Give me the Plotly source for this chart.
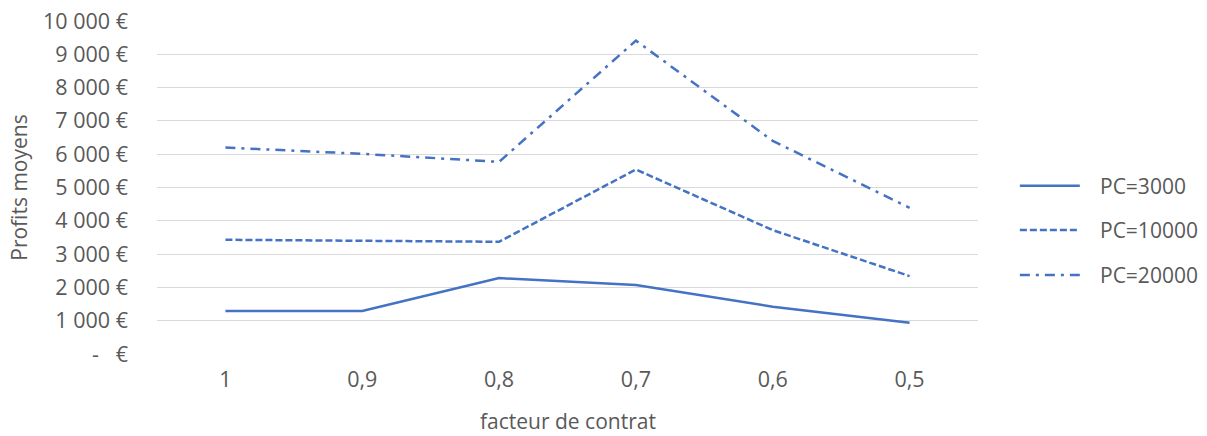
import plotly.graph_objects as go

# Data
categories = ["1", "0,9", "0,8", "0,7", "0,6", "0,5"]
pc_3000 = [1290, 1290, 2280, 2070, 1420, 940]
pc_10000 = [3430, 3410, 3370, 5540, 3720, 2340]
pc_20000 = [6200, 6010, 5770, 9410, 6400, 4390]
series_names = ["PC=3000", "PC=10000", "PC=20000"]

y_tick_values = [0, 1000, 2000, 3000, 4000, 5000, 6000, 7000, 8000, 9000, 10000]
y_tick_labels = ["-   €", "1 000 €", "2 000 €", "3 000 €", "4 000 €", "5 000 €",
                 "6 000 €", "7 000 €", "8 000 €", "9 000 €", "10 000 €"]

BLUE = "#4472C4"
TEXT = "#595959"
FONT = "Open Sans"
TICK_SIZE = 21.5
LABEL_SIZE = 21
dashes = ["solid", "7px,3px", "10px,6px,3px,6px"]

fig = go.Figure()
for name, vals, dash in zip(series_names, [pc_3000, pc_10000, pc_20000], dashes):
    fig.add_trace(go.Scatter(
        x=categories, y=vals, name=name, mode="lines",
        line=dict(color=BLUE, width=2.5, dash=dash),
        showlegend=False,
    ))

# Legend drawn as line samples with labels on the right
legend_y = [0.505, 0.372, 0.237]
for name, dash, ly in zip(series_names, dashes, legend_y):
    fig.add_shape(type="line", xref="paper", yref="paper",
                  x0=1.051, x1=1.124, y0=ly, y1=ly,
                  line=dict(color=BLUE, width=2.5, dash=dash))
    fig.add_annotation(xref="paper", yref="paper", x=1.146, y=ly,
                       text=name, showarrow=False, xanchor="left", yanchor="middle",
                       font=dict(family=FONT, size=LABEL_SIZE, color=TEXT))

# Axis titles
fig.add_annotation(xref="paper", yref="paper", x=0.5, y=-0.2,
                   text="facteur de contrat", showarrow=False,
                   xanchor="center", yanchor="middle",
                   font=dict(family=FONT, size=LABEL_SIZE, color=TEXT))
fig.add_annotation(xref="paper", yref="paper", x=-0.169, y=0.5,
                   text="Profits moyens", showarrow=False, textangle=-90,
                   xanchor="center", yanchor="middle",
                   font=dict(family=FONT, size=LABEL_SIZE, color=TEXT))

fig.update_layout(
    width=1207, height=436,
    margin=dict(l=157, r=229, t=21, b=82),
    paper_bgcolor="white", plot_bgcolor="white",
    font=dict(family=FONT, size=TICK_SIZE, color=TEXT),
    xaxis=dict(
        type="category", range=[-0.5, 5.5], automargin=False,
        showgrid=False, showline=False, zeroline=False,
        ticks="", ticklabelstandoff=10,
        tickfont=dict(size=TICK_SIZE, color=TEXT),
    ),
    yaxis=dict(
        range=[0, 10000], tickvals=y_tick_values, ticktext=y_tick_labels,
        automargin=False,
        showgrid=True, gridcolor="#d9d9d9", gridwidth=1, zeroline=False,
        showline=False, ticks="", ticklabelstandoff=28,
        tickfont=dict(size=TICK_SIZE, color=TEXT),
    ),
)

fig.write_html("out.html")
